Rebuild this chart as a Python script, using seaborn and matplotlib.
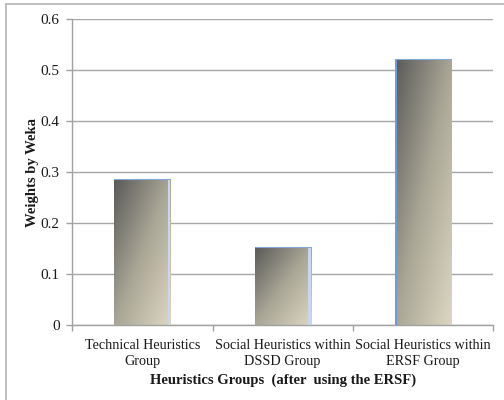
import numpy as np
import pandas as pd
import matplotlib
matplotlib.use("Agg")
import matplotlib.pyplot as plt
from matplotlib.colors import LinearSegmentedColormap
from matplotlib.lines import Line2D
import seaborn as sns

# Weights per heuristics group
groups = ["Technical Heuristics\nGroup",
          "Social Heuristics within\nDSSD Group",
          "Social Heuristics within\nERSF Group"]
weights = [0.286, 0.153, 0.522]
y_ticks = [0, 0.1, 0.2, 0.3, 0.4, 0.5, 0.6]

df = pd.DataFrame({"group": groups, "weight": weights})

sns.set_theme(style="white")
plt.rcParams["font.family"] = ["Liberation Serif", "DejaVu Serif"]

fig = plt.figure(figsize=(5.04, 4.0), dpi=100)
ax = fig.add_axes([72.3 / 504, 1 - 325 / 400, (493 - 72.3) / 504, (325 - 19.3) / 400])

sns.barplot(data=df, x="group", y="weight", ax=ax, width=0.40,
            color="#8a877c", saturation=1, edgecolor="none", zorder=2)

ax.set_ylim(0, 0.6)
ax.set_xlim(-0.5, 2.5)
ax.set_yticks(y_ticks)
ax.set_yticklabels(["0" if v == 0 else f"{v:.1f}" for v in y_ticks])

# horizontal gridlines
ax.yaxis.grid(True, color="#a6a6a6", linewidth=1.0, zorder=0)
ax.set_axisbelow(True)

for side in ["top", "right"]:
    ax.spines[side].set_visible(False)
for side in ["left", "bottom"]:
    ax.spines[side].set_color("#a0a0a0")
    ax.spines[side].set_linewidth(1.0)

# diagonal gradient fill (dark top-left to beige bottom-right)
cmap = LinearSegmentedColormap.from_list("bar_grad", ["#5a5a58", "#a9a696", "#ddd7c1"])
nx, ny = 64, 256
xx, yy = np.meshgrid(np.linspace(0, 1, nx), np.linspace(0, 1, ny))
grad = (xx + yy) / 2.0  # row 0 at top when origin='upper'

for i, patch in enumerate(ax.patches):
    x0 = patch.get_x()
    w = patch.get_width()
    h = patch.get_height()
    patch.set_facecolor("none")
    im = ax.imshow(grad, cmap=cmap, extent=[x0, x0 + w, 0, h], origin="upper",
                   aspect="auto", zorder=2.5, interpolation="bilinear")
    im.set_clip_path(patch)
    # thin bluish side strip and top edge
    strip = 0.018
    if i < 2:
        ax.fill_between([x0 + w - strip, x0 + w], 0, h, color="#c9d7ee", zorder=2.6, linewidth=0)
    else:
        ax.fill_between([x0, x0 + 0.012], 0, h, color="#6f9bd6", zorder=2.6, linewidth=0)
    ax.plot([x0, x0 + w], [h, h], color="#86a8d8", linewidth=0.8, zorder=2.7)

ax.set_xlim(-0.5, 2.5)
ax.set_ylim(0, 0.6)

# tick marks at category boundaries
ax.set_xticks([-0.5, 0.5, 1.5, 2.5], minor=True)
ax.tick_params(axis="x", which="minor", direction="out", length=4, width=1, color="#a0a0a0", bottom=True)
ax.tick_params(axis="x", which="major", length=0, pad=10, labelsize=10.2, colors="#1a1a1a")
ax.tick_params(axis="y", which="major", direction="out", length=4, width=1, color="#a0a0a0",
               left=True, pad=5, labelsize=11, colors="#1a1a1a")
for lbl in ax.get_xticklabels():
    lbl.set_linespacing(1.3)

ax.set_xlabel("Heuristics Groups  (after  using the ERSF)", fontsize=10.5,
              fontweight="bold", labelpad=4, color="#1a1a1a")
ax.set_ylabel("Weights by Weka", fontsize=10.5, fontweight="bold", labelpad=1, color="#1a1a1a")

# light outer frame
fig.add_artist(Line2D([6 / 504, 6 / 504], [0, 1 - 4 / 400], transform=fig.transFigure,
                      color="#b4b4b4", linewidth=1.2))
fig.add_artist(Line2D([6 / 504, 1], [1 - 4 / 400, 1 - 4 / 400], transform=fig.transFigure,
                      color="#b4b4b4", linewidth=1.2))

fig.savefig("out.png", dpi=100)
